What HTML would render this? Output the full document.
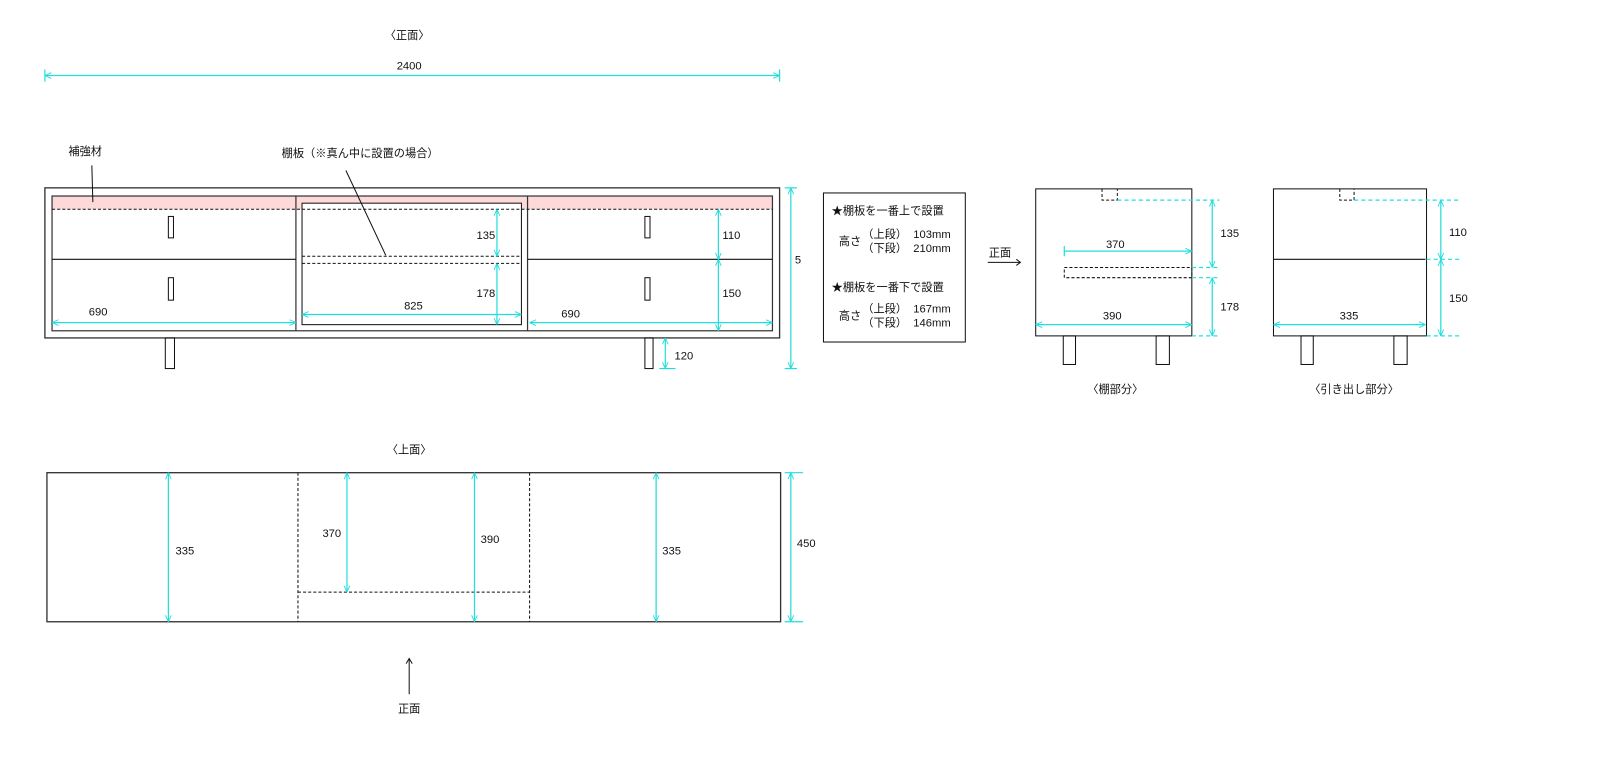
<!DOCTYPE html>
<html><head><meta charset="utf-8"><style>
html,body{margin:0;padding:0;background:#fff;}
svg{display:block}
text{font-family:"Liberation Sans","Noto Sans CJK JP",sans-serif;font-size:11px;fill:#111;}
</style></head><body>
<svg width="1600" height="780" viewBox="0 0 1568 764" preserveAspectRatio="none" xmlns="http://www.w3.org/2000/svg">
<defs>
<marker id="a" viewBox="0 0 10 10" refX="10" refY="5" markerWidth="7" markerHeight="7" orient="auto-start-reverse" markerUnits="userSpaceOnUse">
<path d="M1,1 L10,5 L1,9" fill="none" stroke="#20dede" stroke-width="1.3"/>
</marker>
</defs>
<g fill="none" stroke="#111" stroke-width="1">
<!-- front view -->
<rect x="44" y="184" width="720" height="147" stroke="#333" stroke-width="1.3"/>
<rect x="51" y="192" width="239" height="13" fill="#fdd9d9" stroke="none"/>
<rect x="290" y="192" width="227" height="13" fill="#fdd9d9" stroke="none"/>
<rect x="517" y="192" width="240" height="13" fill="#fdd9d9" stroke="none"/>
<rect x="51" y="192" width="706" height="132" stroke="#333" stroke-width="1.2"/>
<line x1="290" y1="192" x2="290" y2="324" stroke="#333" stroke-width="1.2"/>
<line x1="517" y1="192" x2="517" y2="324" stroke="#333" stroke-width="1.2"/>
<rect x="296" y="199" width="215" height="119" fill="#fff"/>
<line x1="51" y1="205" x2="757" y2="205" stroke-dasharray="3,2"/>
<line x1="296" y1="251" x2="511" y2="251" stroke-dasharray="3,2"/>
<line x1="296" y1="258" x2="511" y2="258" stroke-dasharray="3,2"/>
<line x1="51" y1="254" x2="290" y2="254"/>
<line x1="517" y1="254" x2="757" y2="254"/>
<rect x="165" y="212" width="5" height="21"/>
<rect x="165" y="272" width="5" height="22"/>
<rect x="632" y="212" width="5" height="21"/>
<rect x="632" y="272" width="5" height="22"/>
<rect x="162" y="331" width="9" height="30"/>
<rect x="632" y="331" width="8" height="30"/>
<line x1="90" y1="162" x2="91" y2="198"/>
<line x1="339" y1="167" x2="378" y2="250"/>
<!-- box -->
<rect x="807" y="189" width="139" height="146"/>
<!-- arrow 正面 -->
<line x1="968" y1="257" x2="1000" y2="257"/>
<path d="M996,254 L1000,257 L996,260"/>
<!-- shelf side view -->
<rect x="1015" y="185" width="153" height="144"/>
<path d="M1080,185 V196 H1095 V185" stroke-dasharray="3,2"/>
<rect x="1043" y="262" width="125" height="10" stroke-dasharray="3,2"/>
<rect x="1042" y="329" width="12" height="28"/>
<rect x="1133" y="329" width="13" height="28"/>
<!-- drawer side view -->
<rect x="1248" y="185" width="150" height="144"/>
<path d="M1313,185 V196 H1327 V185" stroke-dasharray="3,2"/>
<line x1="1248" y1="254" x2="1397" y2="254"/>
<rect x="1275" y="329" width="12" height="28"/>
<rect x="1366" y="329" width="13" height="28"/>
<!-- top view -->
<rect x="46" y="463" width="719" height="146" stroke="#333" stroke-width="1.3"/>
<line x1="292" y1="463" x2="292" y2="609" stroke-dasharray="3,2"/>
<line x1="519" y1="463" x2="519" y2="609" stroke-dasharray="3,2"/>
<line x1="292" y1="580" x2="519" y2="580" stroke-dasharray="3,2"/>
<line x1="401" y1="680" x2="401" y2="646"/>
<path d="M398,650 L401,645 L404,650"/>
</g>
<g fill="none" stroke="#20dede" stroke-width="1.2">
<line x1="44" y1="74" x2="764" y2="74" marker-start="url(#a)" marker-end="url(#a)"/>
<line x1="44" y1="68" x2="44" y2="80"/><line x1="764" y1="68" x2="764" y2="80"/>
<line x1="775" y1="184" x2="775" y2="361" marker-start="url(#a)" marker-end="url(#a)"/>
<line x1="769" y1="184" x2="781" y2="184"/><line x1="769" y1="361" x2="781" y2="361"/>
<line x1="51" y1="316" x2="290" y2="316" marker-start="url(#a)" marker-end="url(#a)"/>
<line x1="296" y1="308" x2="511" y2="308" marker-start="url(#a)" marker-end="url(#a)"/>
<line x1="487" y1="205" x2="487" y2="251" marker-start="url(#a)" marker-end="url(#a)"/>
<line x1="487" y1="258" x2="487" y2="318" marker-start="url(#a)" marker-end="url(#a)"/>
<line x1="704" y1="205" x2="704" y2="254" marker-start="url(#a)" marker-end="url(#a)"/>
<line x1="704" y1="254" x2="704" y2="324" marker-start="url(#a)" marker-end="url(#a)"/>
<line x1="519" y1="316" x2="757" y2="316" marker-start="url(#a)" marker-end="url(#a)"/>
<line x1="652" y1="331" x2="652" y2="361" marker-start="url(#a)" marker-end="url(#a)"/>
<line x1="646" y1="361" x2="662" y2="361"/>
<!-- shelf view -->
<g stroke-dasharray="4,3">
<line x1="1095" y1="196" x2="1195" y2="196"/>
<line x1="1168" y1="262" x2="1195" y2="262"/>
<line x1="1168" y1="272" x2="1195" y2="272"/>
<line x1="1168" y1="329" x2="1195" y2="329"/>
<line x1="1327" y1="196" x2="1430" y2="196"/>
<line x1="1398" y1="254" x2="1430" y2="254"/>
<line x1="1398" y1="329" x2="1430" y2="329"/>
</g>
<line x1="1043" y1="246" x2="1168" y2="246" marker-end="url(#a)"/>
<line x1="1043" y1="241" x2="1043" y2="251"/>
<line x1="1015" y1="318" x2="1168" y2="318" marker-start="url(#a)" marker-end="url(#a)"/>
<line x1="1188" y1="196" x2="1188" y2="262" marker-start="url(#a)" marker-end="url(#a)"/>
<line x1="1188" y1="272" x2="1188" y2="329" marker-start="url(#a)" marker-end="url(#a)"/>
<line x1="1248" y1="318" x2="1397" y2="318" marker-start="url(#a)" marker-end="url(#a)"/>
<line x1="1412" y1="196" x2="1412" y2="254" marker-start="url(#a)" marker-end="url(#a)"/>
<line x1="1412" y1="254" x2="1412" y2="329" marker-start="url(#a)" marker-end="url(#a)"/>
<!-- top view -->
<line x1="165" y1="463" x2="165" y2="609" marker-start="url(#a)" marker-end="url(#a)"/>
<line x1="340" y1="463" x2="340" y2="580" marker-start="url(#a)" marker-end="url(#a)"/>
<line x1="465" y1="463" x2="465" y2="609" marker-start="url(#a)" marker-end="url(#a)"/>
<line x1="643" y1="463" x2="643" y2="609" marker-start="url(#a)" marker-end="url(#a)"/>
<line x1="775" y1="463" x2="775" y2="609" marker-start="url(#a)" marker-end="url(#a)"/>
<line x1="769" y1="463" x2="787" y2="463"/><line x1="769" y1="609" x2="787" y2="609"/>
</g>
<g>
<text x="399" y="38" text-anchor="middle">〈正面〉</text>
<text x="401" y="68" text-anchor="middle">2400</text>
<text x="67" y="152">補強材</text>
<text x="276" y="154">棚板（※真ん中に設置の場合）</text>
<text x="779" y="258">5</text>
<text x="87" y="309">690</text>
<text x="396" y="303">825</text>
<text x="467" y="234">135</text>
<text x="467" y="291">178</text>
<text x="708" y="234">110</text>
<text x="708" y="291">150</text>
<text x="550" y="311">690</text>
<text x="661" y="352">120</text>
<text x="815" y="210">★棚板を一番上で設置</text>
<text x="822" y="240">高さ</text>
<text x="845" y="233">（上段）</text><text x="895" y="233">103mm</text>
<text x="845" y="247">（下段）</text><text x="895" y="247">210mm</text>
<text x="815" y="285">★棚板を一番下で設置</text>
<text x="822" y="313">高さ</text>
<text x="845" y="306">（上段）</text><text x="895" y="306">167mm</text>
<text x="845" y="320">（下段）</text><text x="895" y="320">146mm</text>
<text x="969" y="251">正面</text>
<text x="1093" y="243" text-anchor="middle">370</text>
<text x="1090" y="313" text-anchor="middle">390</text>
<text x="1196" y="232">135</text>
<text x="1196" y="304">178</text>
<text x="1093" y="385" text-anchor="middle">〈棚部分〉</text>
<text x="1322" y="313" text-anchor="middle">335</text>
<text x="1420" y="231">110</text>
<text x="1420" y="296">150</text>
<text x="1327" y="385" text-anchor="middle">〈引き出し部分〉</text>
<text x="401" y="444" text-anchor="middle">〈上面〉</text>
<text x="172" y="543">335</text>
<text x="316" y="526">370</text>
<text x="471" y="532">390</text>
<text x="649" y="543">335</text>
<text x="781" y="536">450</text>
<text x="401" y="698" text-anchor="middle">正面</text>
</g>
</svg>
</body></html>
